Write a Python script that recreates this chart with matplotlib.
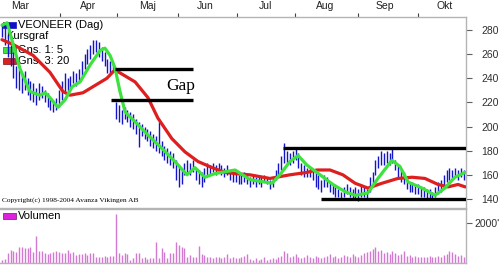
import matplotlib
matplotlib.use("Agg")
import matplotlib.pyplot as plt
from matplotlib.patches import Rectangle

# ---- data ----
price_hi = [286, 282, 276, 268, 262, 250, 248, 244, 246, 240,
            238, 236, 232, 236, 234, 230, 228, 224, 222, 224,
            230, 238, 244, 240, 242, 246, 244, 248, 254, 260,
            264, 268, 272, 272, 270, 266, 262, 256, 254, 252,
            220, 218, 214, 216, 214, 212, 210, 206, 204, 202,
            200, 198, 196, 194, 192, 204, 188, 184, 182, 180,
            178, 172, 168, 164, 170, 172, 170, 172, 166, 164,
            162, 166, 170, 168, 170, 168, 170, 168, 166, 168,
            164, 162, 162, 160, 160, 162, 160, 158, 160, 158,
            160, 158, 160, 158, 156, 158, 164, 170, 176, 186,
            180, 178, 180, 182, 178, 170, 168, 166, 166, 164,
            162, 160, 156, 160, 158, 154, 152, 150, 148, 146,
            150, 152, 150, 148, 150, 148, 152, 150, 148, 158,
            162, 172, 176, 180, 178, 180, 178, 182, 172, 168,
            164, 162, 158, 154, 154, 152, 152, 150, 150, 148,
            148, 146, 150, 154, 156, 160, 164, 166, 164, 166,
            164, 166, 164]
price_lo = [274, 268, 258, 250, 240, 232, 230, 228, 230, 226,
            222, 220, 218, 222, 224, 220, 216, 214, 212, 214,
            216, 222, 228, 228, 232, 236, 234, 238, 242, 248,
            252, 256, 260, 262, 258, 254, 250, 244, 244, 248,
            206, 204, 202, 206, 204, 200, 198, 194, 183, 192,
            190, 188, 184, 182, 180, 178, 176, 172, 170, 168,
            166, 156, 150, 152, 160, 162, 160, 162, 156, 152,
            150, 154, 160, 160, 162, 160, 162, 160, 158, 160,
            156, 154, 154, 152, 152, 154, 152, 150, 152, 150,
            152, 150, 154, 152, 148, 150, 156, 160, 164, 170,
            170, 168, 170, 172, 166, 160, 158, 158, 158, 156,
            150, 148, 146, 150, 150, 146, 144, 142, 142, 140,
            142, 144, 142, 140, 140, 138, 142, 142, 140, 146,
            150, 160, 166, 168, 168, 170, 168, 170, 164, 158,
            154, 152, 148, 146, 146, 144, 144, 142, 142, 140,
            140, 140, 142, 144, 146, 150, 154, 156, 156, 158,
            156, 158, 156]
volume = [140, 220, 480, 650, 600, 560, 820, 820, 770, 770,
          820, 560, 1380, 600, 600, 510, 430, 510, 560, 620,
          560, 480, 480, 650, 510, 560, 400, 430, 430, 480,
          400, 480, 510, 310, 310, 310, 360, 310, 360, 360,
          2450, 480, 400, 480, 430, 150, 260, 480, 480, 260,
          310, 200, 260, 260, 1080, 260, 770, 560, 260, 480,
          480, 1080, 920, 820, 770, 310, 400, 310, 310, 870,
          430, 400, 310, 310, 260, 310, 310, 260, 310, 430,
          260, 310, 260, 260, 310, 360, 430, 200, 150, 250,
          150, 200, 300, 150, 200, 250, 200, 300, 350, 620,
          480, 300, 350, 430, 300, 250, 300, 400, 300, 250,
          350, 300, 250, 300, 350, 430, 300, 350, 250, 300,
          400, 350, 300, 430, 350, 300, 400, 500, 560, 600,
          700, 820, 600, 650, 500, 560, 450, 620, 500, 400,
          450, 600, 350, 400, 300, 350, 300, 280, 320, 300,
          350, 300, 280, 350, 300, 400, 450, 600, 560, 430,
          350, 400, 300]

ma5_x = [0, 1.8, 6.3, 9.8, 13.3, 15.1, 16.8, 19.6, 22.1, 24.6, 27.4, 30.9,
         34.4, 36.1, 37.9, 39.6, 41.4, 43.2, 46.7, 51.2, 56.1, 60.7, 64.9,
         67.7, 71.2, 74.7, 81.8, 87, 94.7, 97.5, 101, 103.9, 107, 111.6,
         116.1, 120.4, 124, 128.4, 131.9, 136.8, 139.6, 142.5, 147.4, 151.9,
         155.4, 158.9, 162.5]
ma5_y = [284, 286, 248, 229, 226, 228, 224, 216, 222, 233, 237, 251,
         263, 265, 259, 249, 229, 212, 204, 193, 182, 171, 160,
         166, 158, 161, 164, 156, 153, 160, 171, 176, 168, 160,
         152, 146, 143, 145, 157, 172, 167, 154, 149, 143,
         149, 158, 162]
ma20_x = [0, 3.9, 10.9, 16.8, 21.4, 23.9, 28.4, 31.9, 36.8, 39.6, 46.7,
          51.2, 54.7, 59.6, 64.2, 68.8, 73.7, 78.2, 81.8, 87, 94, 101, 107,
          110.5, 115.1, 119.6, 123.9, 128.4, 133.3, 138.9, 143.9, 148.4,
          153, 156.5, 160, 162.5]
ma20_y = [272, 268, 259, 245, 229, 226, 228, 233, 240, 247, 237,
          224, 207, 190, 179, 171, 166, 162, 161, 160, 157, 160, 162,
          164, 164, 160, 153, 149, 153, 157, 158, 157,
          152, 150, 152, 150]

# drawn support / resistance / gap levels
level_val = [248, 222, 182, 140]
level_from = [39.6, 38.2, 98.6, 111.9]
level_to = [67, 67, 163, 163]

month_edges = [20.4, 40.4, 61.8, 82.5, 102.8, 124.9, 146]
month_pos = [6.3, 30.2, 51.2, 71.2, 92.3, 113.3, 134.4, 155.4]
month_names = ["Mar", "Apr", "Maj", "Jun", "Jul", "Aug", "Sep", "Okt"]
price_ticks = [140, 160, 180, 200, 220, 240, 260, 280]

plt.rcParams["font.family"] = ["Liberation Sans", "DejaVu Sans"]

W, H = 500, 266
fig = plt.figure(figsize=(5, 2.66), dpi=100)
ax = fig.add_axes([0.0, 1 - 208 / H, 466 / W, 191 / H])
axv = fig.add_axes([0.0, 1 - 263 / H, 466 / W, 54 / H], sharex=ax)

frame_c = "#b4b4b4"
days = list(range(len(price_hi)))

# price bars
ax.vlines(days, price_lo, price_hi, color="#1414c8", lw=1.0, zorder=2)
ax.plot(ma20_x, ma20_y, color="#dd1f1f", lw=2.3, solid_joinstyle="round",
        solid_capstyle="round", zorder=3)
ax.plot(ma5_x, ma5_y, color="#3ee23e", lw=2.3, solid_joinstyle="round",
        solid_capstyle="round", zorder=4)
ax.hlines(level_val, level_from, level_to, color="black", lw=2.4, zorder=5)

ax.set_xlim(-0.7, 162.8)
ax.set_ylim(132.5, 290.8)

ax.xaxis.set_ticks_position("top")
ax.set_xticks(month_edges)
ax.set_xticklabels([])
ax.set_xticks(month_pos, minor=True)
ax.set_xticklabels(month_names, minor=True)
ax.tick_params(axis="x", which="major", direction="out", length=3,
               color="#404040", width=0.8)
ax.tick_params(axis="x", which="minor", length=0, pad=4, labelsize=7.5,
               labelcolor="#202020")

ax.yaxis.tick_right()
ax.set_yticks(price_ticks)
ax.tick_params(axis="y", direction="out", length=4, color="#606060",
               width=0.8, pad=7, labelsize=7.5, labelcolor="#303030")

for a in (ax, axv):
    a.spines["left"].set_visible(False)
    for s in ("top", "right", "bottom"):
        a.spines[s].set_color(frame_c)
        a.spines[s].set_linewidth(1.0)

# legend texts (drawn under the lines like the original)
ft = fig.transFigure
def fx(px):
    return px / W
def fy(py):
    return 1 - py / H

ax.add_patch(Rectangle((fx(3), fy(28)), fx(13), 6 / H, transform=ft,
                       facecolor="#1010c8", edgecolor="#1010c8", lw=0.5,
                       zorder=1, clip_on=False))
ax.add_patch(Rectangle((fx(3), fy(53)), fx(13), 6 / H, transform=ft,
                       facecolor="#3ee23e", edgecolor="#1a8a1a", lw=0.5,
                       zorder=1, clip_on=False))
ax.add_patch(Rectangle((fx(3), fy(64)), fx(13), 6 / H, transform=ft,
                       facecolor="#dd1f1f", edgecolor="#7a1010", lw=0.5,
                       zorder=1, clip_on=False))
ax.text(fx(18), fy(25), "VEONEER (Dag)", transform=ft, fontsize=8,
        va="center", ha="left", zorder=1)
ax.text(fx(6), fy(36), "Kursgraf", transform=ft, fontsize=8,
        va="center", ha="left", zorder=1)
ax.text(fx(18), fy(50), "Gns. 1: 5", transform=ft, fontsize=8,
        va="center", ha="left", zorder=1)
ax.text(fx(18), fy(61), "Gns. 3: 20", transform=ft, fontsize=8,
        va="center", ha="left", zorder=1)

ax.text(62.8, 233.6, "Gap", fontsize=12.5, family="Liberation Serif",
        ha="center", va="center", zorder=6)
ax.text(fx(2), fy(200), "Copyright(c) 1998-2004 Avanza Vikingen AB",
        transform=ft, fontsize=5.3, family="Liberation Serif",
        ha="left", va="center", zorder=6)

# volume panel
axv.vlines(days, 0, volume, color="#d27ad2", lw=1.0)
axv.set_ylim(0, 2718)
axv.set_yticks([2000])
axv.set_yticklabels(["2000'"])
axv.yaxis.tick_right()
axv.tick_params(axis="y", direction="out", length=4, color="#606060",
                width=0.8, pad=2, labelsize=7.5, labelcolor="#303030")
axv.tick_params(axis="x", which="both", bottom=False, top=False,
                labelbottom=False, labeltop=False)
axv.add_patch(Rectangle((fx(3), fy(219)), fx(13), 6 / H, transform=ft,
                        facecolor="#dd22dd", edgecolor="#661a66", lw=0.5,
                        clip_on=False))
axv.text(fx(18), fy(216), "Volumen", transform=ft, fontsize=8,
         va="center", ha="left")

fig.savefig("out.png", dpi=100)
